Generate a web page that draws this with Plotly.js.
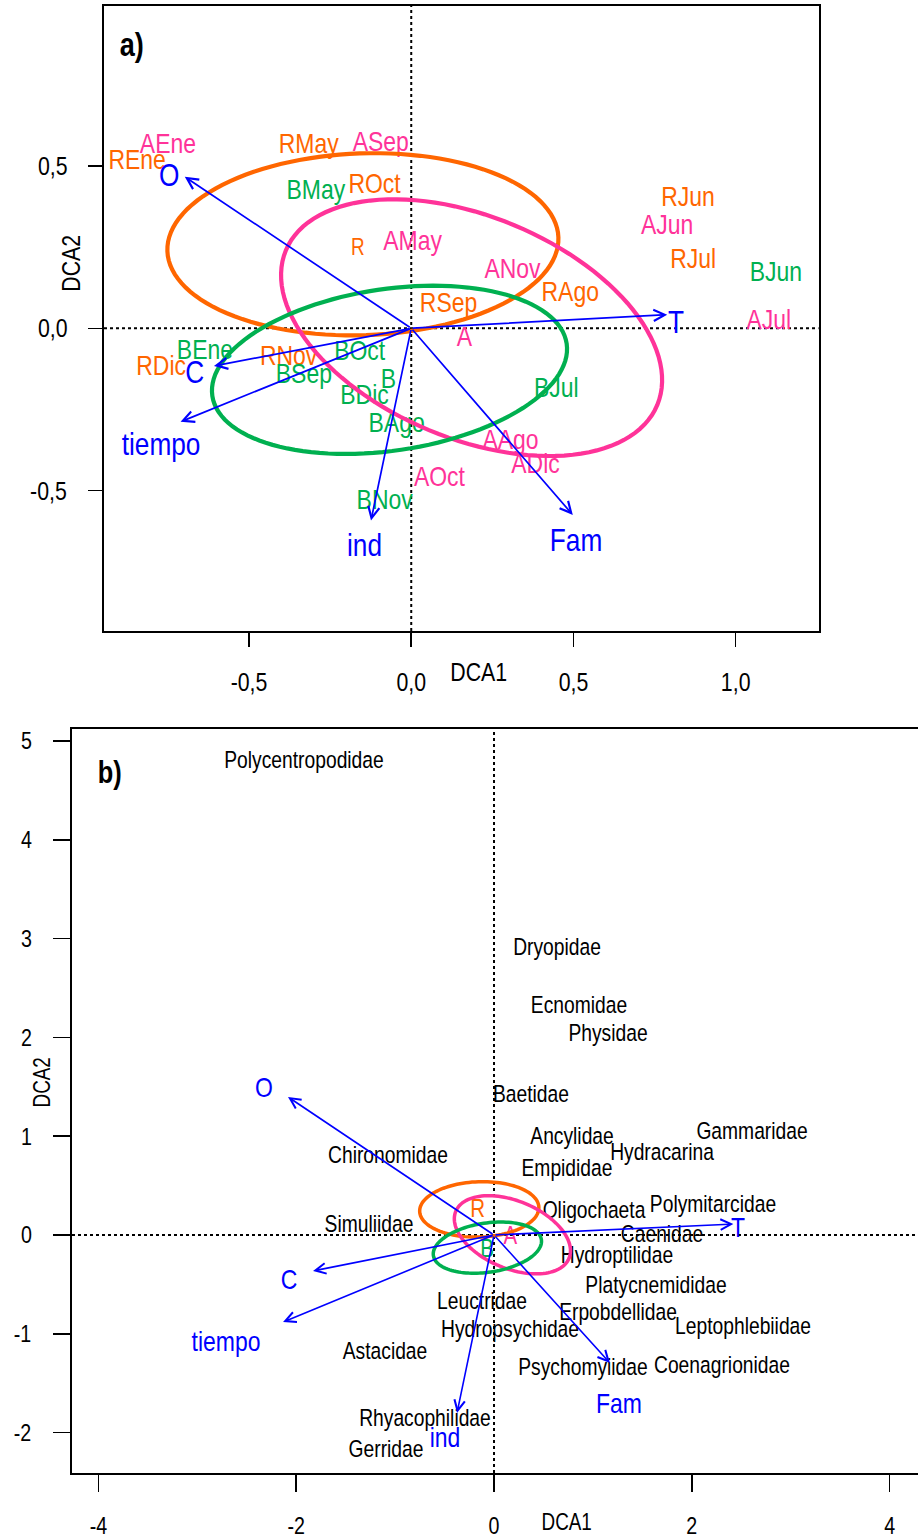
<!DOCTYPE html>
<html><head><meta charset="utf-8">
<script src="https://cdn.plot.ly/plotly-3.0.1.min.js"></script>
<style>html,body{margin:0;padding:0;background:#fff}</style>
</head><body><div id="chart" style="width:918px;height:1539px"></div>
<script>
const FONT = "'Liberation Sans', Arial, sans-serif";
const NARROW = 0.82; // horizontal squeeze giving an Arial-Narrow look
const COLORS = {R: '#FF6600', A: '#FF3399', B: '#00B050'};
const BLUE = '#0000FF';

// ---------- Panel a: sample scores ----------
const sampleLabels = ['REne','AEne','RMay','ASep','BMay','ROct','AMay','RJun','AJun','RJul','BJun','ANov','RAgo','RSep','AJul','BEne','RDic','RNov','BOct','BSep','BDic','BJul','BAgo','AAgo','ADic','AOct','BNov'];
const sampleX = [-0.845,-0.750,-0.316,-0.094,-0.294,-0.113,0.004,0.853,0.789,0.869,1.124,0.312,0.490,0.115,1.102,-0.636,-0.771,-0.378,-0.159,-0.331,-0.144,0.447,-0.045,0.306,0.383,0.087,-0.082];
const sampleY = [0.512,0.561,0.561,0.567,0.419,0.437,0.263,0.398,0.312,0.207,0.167,0.178,0.106,0.072,0.019,-0.073,-0.123,-0.092,-0.076,-0.147,-0.211,-0.190,-0.298,-0.350,-0.424,-0.463,-0.534];

// group centroids and ellipses (same ordination in both panels)
const groupNames = ['R','A','B'];
const groupX = [-0.165, 0.164, -0.070];
const groupY = [0.245, -0.033, -0.162];
const ellCx = [-0.149, 0.186, -0.067];
const ellCy = [0.259, 0.002, -0.128];
const ellA = [0.603, 0.620, 0.552];
const ellB = [0.280, 0.342, 0.249];
const ellAngle = [2, -22.6, 8.4];

// environmental vectors, panel a
const envNames = ['O','C','tiempo','ind','Fam','T'];
const envAX = [-0.698,-0.608,-0.711,-0.124,0.498,0.789];
const envAY = [0.467,-0.116,-0.288,-0.592,-0.575,0.042];
const envALabX = [-0.746,-0.667,-0.771,-0.144,0.508,0.816];
const envALabY = [0.463,-0.144,-0.365,-0.676,-0.661,0.010];

// ---------- Panel b: family scores ----------
const famNames = ['Polycentropodidae','Dryopidae','Ecnomidae','Physidae','Baetidae','Ancylidae','Gammaridae','Hydracarina','Empididae','Chironomidae','Oligochaeta','Polymitarcidae','Caenidae','Simuliidae','Hydroptilidae','Platycnemididae','Leuctridae','Erpobdellidae','Leptophlebiidae','Hydropsychidae','Astacidae','Psychomyiidae','Coenagrionidae','Rhyacophilidae','Gerridae'];
const famX = [-1.921,0.637,0.859,1.153,0.374,0.789,2.609,1.699,0.738,-1.072,1.011,2.214,1.699,-1.264,1.244,1.638,-0.121,1.254,2.518,0.162,-1.102,0.900,2.305,-0.698,-1.092];
const famY = [4.787,2.895,2.308,2.024,1.407,0.982,1.032,0.820,0.658,0.789,0.233,0.294,-0.010,0.091,-0.223,-0.526,-0.688,-0.800,-0.941,-0.972,-1.194,-1.356,-1.336,-1.872,-2.186];

// environmental vectors, panel b
const envBX = [-2.083,-1.830,-2.133,-0.374,1.173,2.420];
const envBY = [1.397,-0.364,-0.881,-1.801,-1.296,0.111];
const envBLabX = [-2.326,-2.073,-2.710,-0.495,1.264,2.467];
const envBLabY = [1.468,-0.476,-1.103,-2.075,-1.731,0.051];

// tick labels
const aXTicks = [-0.5, 0, 0.5, 1.0];
const aXTickText = ['-0,5','0,0','0,5','1,0'];
const aYTicks = [-0.5, 0, 0.5];
const aYTickText = ['-0,5','0,0','0,5'];
const bXTicks = [-4,-2,0,2,4];
const bYTicks = [-2,-1,0,1,2,3,4,5];

// ---------- build ----------
const traces = [];
['R','A','B'].forEach(g => {
  const idx = sampleLabels.map((l,i)=>l[0]===g?i:-1).filter(i=>i>=0);
  traces.push({type:'scatter', mode:'text', xaxis:'x', yaxis:'y', cliponaxis:false, hoverinfo:'skip',
    x: idx.map(i=>sampleX[i]), y: idx.map(i=>sampleY[i]), text: idx.map(i=>sampleLabels[i]),
    textposition:'middle center', textfont:{family:FONT, size:28, color:COLORS[g]}});
});
traces.push({type:'scatter', mode:'text', xaxis:'x', yaxis:'y', cliponaxis:false, hoverinfo:'skip',
  x: groupX, y: groupY, text: groupNames, textposition:'middle center',
  textfont:{family:FONT, size:[23,28,28], color: groupNames.map(g=>COLORS[g])}});
traces.push({type:'scatter', mode:'text', xaxis:'x2', yaxis:'y2', cliponaxis:false, hoverinfo:'skip',
  x: famX, y: famY, text: famNames, textposition:'middle center',
  textfont:{family:FONT, size:23.5, color:'#000'}});
traces.push({type:'scatter', mode:'text', xaxis:'x2', yaxis:'y2', cliponaxis:false, hoverinfo:'skip',
  x: groupX, y: groupY, text: groupNames, textposition:'middle center',
  textfont:{family:FONT, size:25, color: groupNames.map(g=>COLORS[g])}});
traces.push({type:'scatter', mode:'text', xaxis:'x', yaxis:'y', cliponaxis:false, hoverinfo:'skip',
  x: envALabX, y: envALabY, text: envNames, textposition:'middle center',
  textfont:{family:FONT, size:32, color:BLUE}});
traces.push({type:'scatter', mode:'text', xaxis:'x2', yaxis:'y2', cliponaxis:false, hoverinfo:'skip',
  x: envBLabX, y: envBLabY, text: envNames, textposition:'middle center',
  textfont:{family:FONT, size:28, color:BLUE}});

function ellipsePath(k){
  const th = ellAngle[k]*Math.PI/180, n = 120;
  let p = '';
  for (let i=0;i<=n;i++){
    const t = 2*Math.PI*i/n;
    const ex = ellA[k]*Math.cos(t), ey = ellB[k]*Math.sin(t);
    const x = ellCx[k] + ex*Math.cos(th) - ey*Math.sin(th);
    const y = ellCy[k] + ex*Math.sin(th) + ey*Math.cos(th);
    p += (i===0?'M':'L') + x.toFixed(4) + ',' + y.toFixed(4);
  }
  return p + 'Z';
}

const shapes = [];
[['x','y'],['x2','y2']].forEach(([xa,ya])=>{
  shapes.push({type:'line', xref:xa+' domain', yref:ya, x0:0, x1:1, y0:0, y1:0, layer:'below', line:{color:'#000', width:2, dash:'dot'}});
  shapes.push({type:'line', xref:xa, yref:ya+' domain', x0:0, x1:0, y0:0, y1:1, layer:'below', line:{color:'#000', width:2, dash:'dot'}});
});
groupNames.forEach((g,k)=>{
  shapes.push({type:'path', xref:'x', yref:'y', path:ellipsePath(k), layer:'above', line:{color:COLORS[g], width:4.2}});
  shapes.push({type:'path', xref:'x2', yref:'y2', path:ellipsePath(k), layer:'above', line:{color:COLORS[g], width:3.5}});
});

const annotations = [];
envNames.forEach((n,i)=>{
  annotations.push({xref:'x', yref:'y', axref:'x', ayref:'y', x:envAX[i], y:envAY[i], ax:0, ay:0, text:'', showarrow:true,
    arrowhead:5, arrowsize:1.3, arrowwidth:1.7, arrowcolor:BLUE, standoff:0});
  annotations.push({xref:'x2', yref:'y2', axref:'x2', ayref:'y2', x:envBX[i], y:envBY[i], ax:0, ay:0, text:'', showarrow:true,
    arrowhead:5, arrowsize:1.3, arrowwidth:1.6, arrowcolor:BLUE, standoff:0});
});
const W = 918, H = 1539;
function note(text, px, py, size, extra){
  return Object.assign({xref:'paper', yref:'paper', x:px/W, y:1-py/H, xanchor:'center', yanchor:'middle',
    text:text, showarrow:false, font:{family:FONT, size:size, color:'#000'}}, extra||{});
}
annotations.push(note('<b>a)</b>', 131, 45, 33));
annotations.push(note('<b>b)</b>', 109, 772, 31));
annotations.push(note('DCA1', 478, 672, 26));
annotations.push(note('DCA2', 71, 264, 26, {textangle:-90}));
annotations.push(note('DCA1', 566, 1522, 23));
annotations.push(note('DCA2', 42, 1083, 23, {textangle:-90}));

const axBase = {showgrid:false, zeroline:false, ticks:'outside', tickcolor:'#000', tickwidth:1.5, showline:true, linecolor:'#000', linewidth:2};
const layout = {
  width:W, height:H, margin:{l:0,r:0,t:0,b:0}, paper_bgcolor:'#fff', plot_bgcolor:'#fff', showlegend:false,
  xaxis: Object.assign({}, axBase, {domain:[104/W, 818.5/W], range:[-0.947, 1.2553], anchor:'y', mirror:true,
    tickmode:'array', tickvals:aXTicks, ticktext:aXTickText, ticklen:14, ticklabelstandoff:13, tickfont:{family:FONT, size:26, color:'#000'}}),
  yaxis: Object.assign({}, axBase, {domain:[1-631/H, 1-6/H], range:[-0.9328, 0.9932], anchor:'x', mirror:true,
    tickmode:'array', tickvals:aYTicks, ticktext:aYTickText, ticklen:14, ticklabelstandoff:12, tickfont:{family:FONT, size:26, color:'#000'}}),
  xaxis2: Object.assign({}, axBase, {domain:[72/W, 1], range:[-4.267, 4.287], anchor:'y2', mirror:true,
    tickmode:'array', tickvals:bXTicks, ticktext:bXTicks.map(String), ticklen:17, ticklabelstandoff:13, tickfont:{family:FONT, size:24, color:'#000'}}),
  yaxis2: Object.assign({}, axBase, {domain:[1-1473/H, 1-729/H], range:[-2.409, 5.121], anchor:'x2', mirror:false,
    tickmode:'array', tickvals:bYTicks, ticktext:bYTicks.map(String), ticklen:17, ticklabelstandoff:15, tickfont:{family:FONT, size:24, color:'#000'}}),
  shapes: shapes, annotations: annotations
};

function squeezeTexts(gd){
  gd.querySelectorAll('svg text').forEach(t => {
    if (!t.textContent) return;
    const x = parseFloat(t.getAttribute('x')) || 0;
    const y = parseFloat(t.getAttribute('y')) || 0;
    const anchor = t.getAttribute('text-anchor') || (t.style && t.style.textAnchor) || 'start';
    let cx = x;
    if (anchor === 'start' || anchor === 'end') {
      try { const bb = t.getBBox(); cx = bb.x + bb.width/2; } catch(e) {}
    }
    const prev = t.getAttribute('transform') || '';
    t.setAttribute('transform', prev + ' translate(' + cx + ',' + y + ') scale(' + NARROW + ',1) translate(' + (-cx) + ',' + (-y) + ')');
  });
}
Plotly.newPlot('chart', traces, layout, {staticPlot:true, displayModeBar:false}).then(squeezeTexts);
</script></body></html>
